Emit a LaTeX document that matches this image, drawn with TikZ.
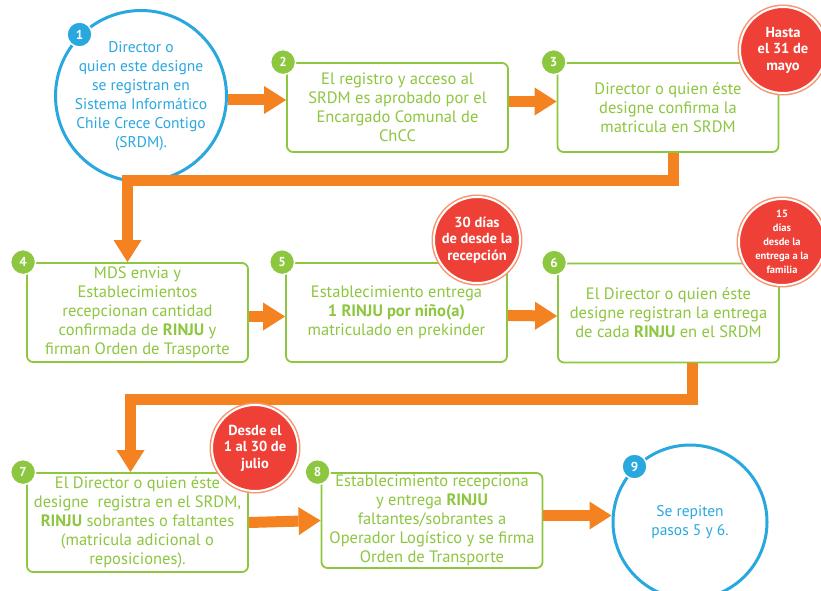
\documentclass[tikz,border=0pt]{standalone}
\usepackage{fontspec}
\setmainfont{PT Sans}
\usetikzlibrary{arrows.meta}
\definecolor{azul}{RGB}{41,168,224}
\definecolor{verde}{RGB}{141,198,63}
\definecolor{naranja}{RGB}{245,130,32}
\definecolor{rojo}{RGB}{238,64,54}
\definecolor{anillo}{RGB}{247,150,110}

\tikzset{
  paso/.style={rectangle, rounded corners=6pt, draw=verde, line width=1.8pt, fill=white,
    minimum width=221pt, inner sep=2pt, align=center, text=verde,
    font=\fontsize{16.5}{19}\selectfont},
  ciclo/.style={circle, draw=azul, line width=3pt, fill=white, inner sep=0pt,
    align=center, text=azul, font=\fontsize{15.5}{19}\selectfont},
  numero/.style={circle, draw=white, line width=1.5pt, minimum size=25pt, inner sep=0pt,
    text=white, font=\bfseries\fontsize{13}{13}\selectfont},
  plazo/.style={circle, fill=rojo, draw=white, line width=2pt, minimum size=86pt, inner sep=0pt,
    align=center, text=white, font=\bfseries\fontsize{14.5}{16.5}\selectfont,
    preaction={draw=anillo, line width=5pt}},
  flecha/.style={draw=naranja, line width=11pt,
    -{Triangle[width=28pt,length=22pt,line width=0pt]}},
}

\begin{document}
\begin{tikzpicture}[x=1pt, y=-1pt]
  \useasboundingbox (0,0) rectangle (821,591);

  % Fila 1
  \node[ciclo, minimum size=150pt] (paso1) at (141,96)
    {Director o\\quien este designe\\se registran en\\Sistema Informático\\Chile Crece Contigo\\(SRDM).};
  \node[paso, minimum height=89pt] (paso2) at (397.5,107.5)
    {El registro y acceso al\\SRDM es aprobado por el\\Encargado Comunal de\\ChCC};
  \node[paso, minimum height=89pt] (paso3) at (668,107.5)
    {Director o quien éste\\designe confirma la\\matricula en SRDM};

  % Fila 2
  \node[paso, minimum height=99pt] (paso4) at (137.5,312.5)
    {MDS envia y\\Establecimientos\\recepcionan cantidad\\confirmada de \textbf{RINJU} y\\firman Orden de Trasporte};
  \node[paso, minimum height=99pt] (paso5) at (396.5,312.5)
    {Establecimiento entrega\\\textbf{1 RINJU por niño(a)}\\matriculado en prekinder};
  \node[paso, minimum height=99pt] (paso6) at (668.5,313)
    {El Director o quien éste\\designe registran la entrega\\de cada \textbf{RINJU} en el SRDM};

  % Fila 3
  \node[paso, minimum height=99pt] (paso7) at (137.5,522.5)
    {El Director o quien éste\\designe\ \ registra en el SRDM,\\\textbf{RINJU} sobrantes o faltantes\\(matricula adicional o\\reposiciones).};
  \node[paso, minimum height=95pt] (paso8) at (432,520.5)
    {Establecimiento recepciona\\y entrega \textbf{RINJU}\\faltantes/sobrantes a\\Operador Logístico y se firma\\Orden de Transporte};
  \node[ciclo, minimum size=154pt] (paso9) at (690,522)
    {Se repiten\\pasos 5 y 6.};

  % Conectores
  \draw[flecha] ([yshift=-4pt]paso1.east) -- ([yshift=-4pt]paso1.east -| paso2.west);
  \draw[flecha] ([yshift=6pt]paso2.east) -- ([yshift=6pt]paso3.west);
  \draw[flecha] ([xshift=5pt]paso3.south) -- ++(0,28) -| ([xshift=-10pt]paso4.north);
  \draw[flecha] ([yshift=-4pt]paso4.east) -- ([yshift=-4pt]paso5.west);
  \draw[flecha] ([yshift=-3pt]paso5.east) -- ([yshift=-3pt]paso6.west);
  \draw[flecha] ([xshift=24pt]paso6.south) -- ++(0,36) -| ([xshift=-7pt]paso7.north);
  \draw[flecha] (paso7.east) -- (paso8.west);
  \draw[flecha] ([yshift=5pt]paso8.east) -- ([yshift=5pt]paso8.east -| paso9.west);

  % Plazos
  \node[plazo] (plazo3) at (783,50) {Hasta\\el 31 de\\mayo};
  \node[plazo] (plazo5) at (477,240) {30 días\\de desde la\\recepción};
  \node[plazo, font=\bfseries\fontsize{10.5}{14}\selectfont] (plazo6) at (782,242)
    {15\\días\\desde la\\entrega a la\\familia};
  \node[plazo] (plazo7) at (255,448) {Desde el\\1 al 30 de\\julio};

  % Numeros
  \node[numero, fill=azul] (num1) at (paso1.135) {1};
  \foreach \i in {2,...,8}
    \node[numero, fill=verde] (num\i) at ([xshift=-3pt]paso\i.north west) {\i};
  \node[numero, fill=azul] (num9) at (paso9.135) {9};
\end{tikzpicture}
\end{document}
